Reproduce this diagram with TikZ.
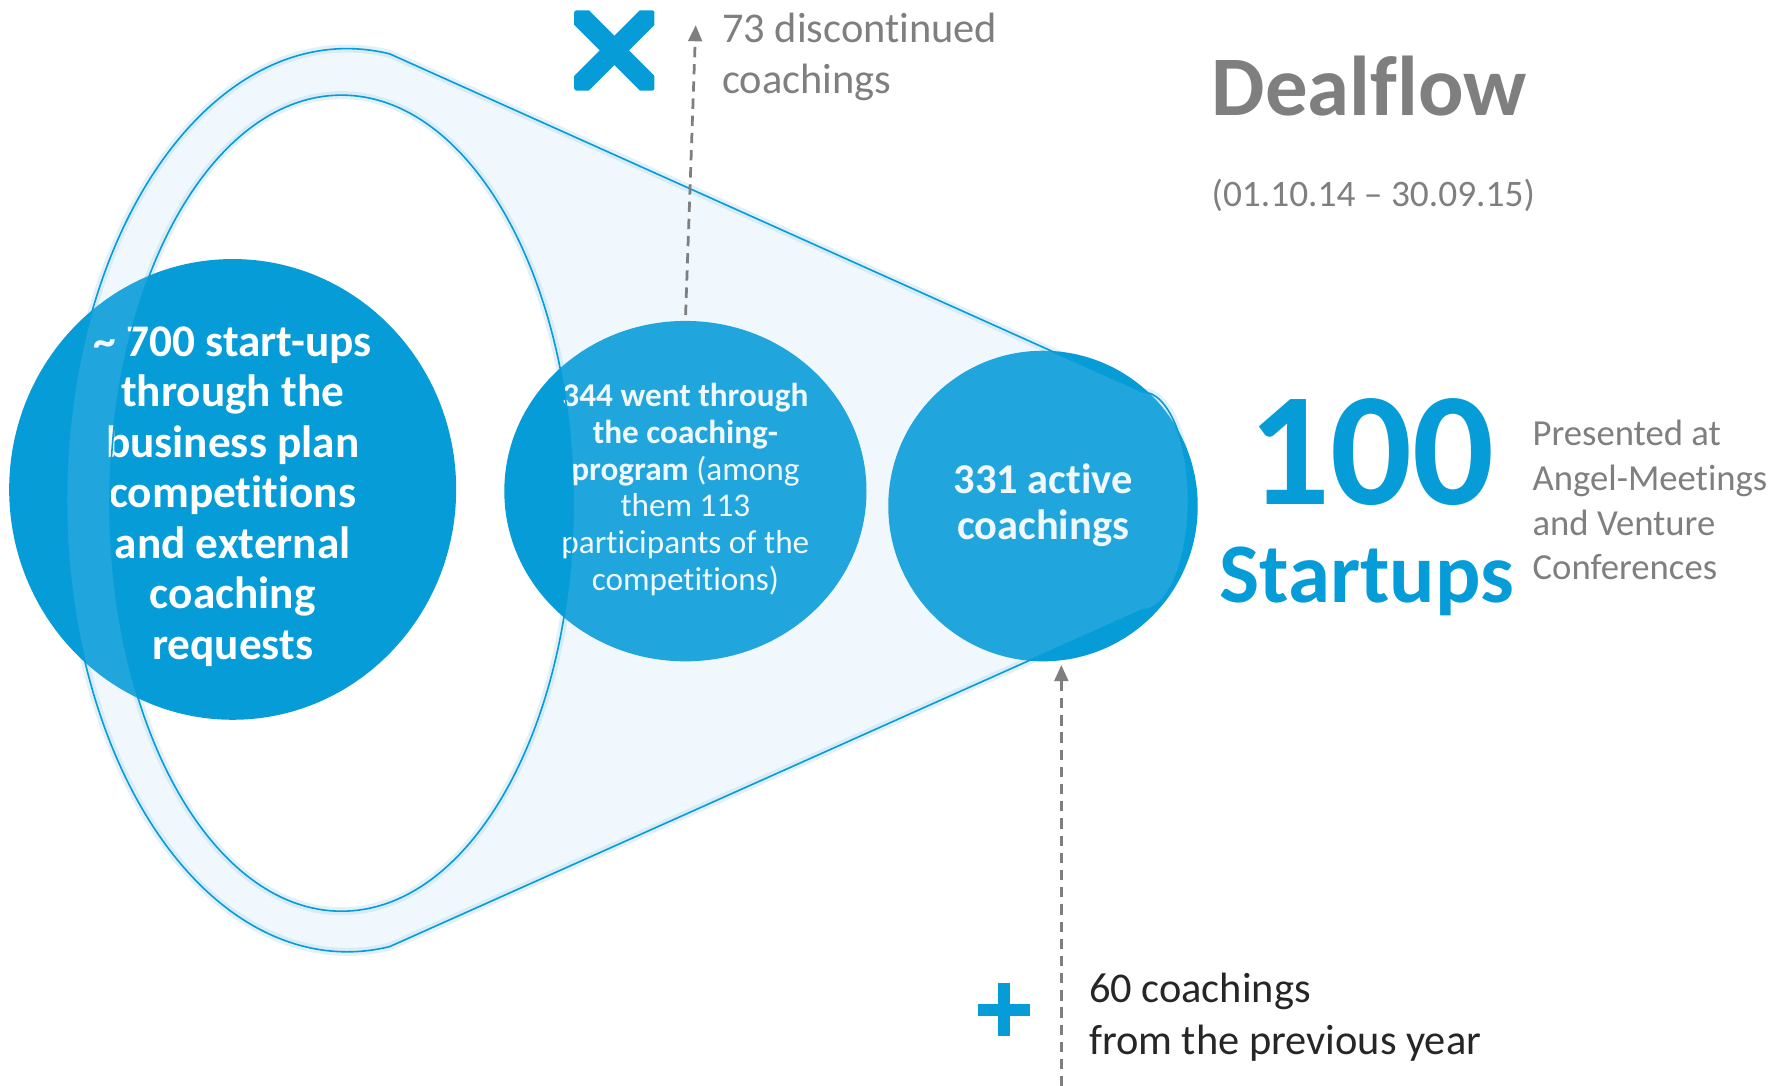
\documentclass[tikz,border=0pt]{standalone}
\usepackage{fontspec}
\setmainfont{Carlito}[Ligatures=NoCommon]
\usetikzlibrary{arrows.meta,shapes.geometric}
\definecolor{cblue}{RGB}{6,156,216}
\definecolor{fillzero}{RGB}{172,216,246}
\definecolor{tgray}{RGB}{127,127,127}
\definecolor{tdark}{RGB}{38,38,38}
\definecolor{glowc}{RGB}{205,230,246}
\def\funnelpath{(340,47) arc[start angle=-81.3, end angle=-278.7, x radius=245, y radius=394] -- (997,532) arc[start angle=90, end angle=-90, x radius=40, y radius=95] -- cycle}
\def\holepath{(298,439) ellipse [x radius=202, y radius=356]}
\begin{document}
\begin{tikzpicture}[x=1pt,y=-1pt,
  bubble/.style={ellipse, draw=none, fill=cblue, inner sep=0pt},
  wtext/.style={text=white, align=center, inner sep=0pt, anchor=base},
  gtext/.style={text=tgray, align=left, inner sep=0pt, anchor=base west},
  darrow/.style={draw=tgray, line width=2.4pt, dash pattern=on 9pt off 6pt, -{Triangle[length=14pt,width=12pt]}},
  funnelline/.style={draw=cblue, line width=1.4pt},
  glowline/.style={draw=glowc, line width=7pt, opacity=0.6},
]
\useasboundingbox (0,0) rectangle (1560,947.5);
\fill[white] (0,0) rectangle (1560,947.5);

% soft glow of the funnel (under the circles)
\draw[glowline] \funnelpath;
\draw[glowline] \holepath;

% circles
\node[bubble, minimum width=390pt, minimum height=402pt] (big) at (203,427) {};
\node[bubble, minimum width=316pt, minimum height=297pt] (mid) at (598,428.5) {};
\node[bubble, minimum width=270pt, minimum height=271pt] (right) at (910,441.5) {};

% circle texts (base = last line)
\node[wtext, font=\bfseries\fontsize{39.5}{44}\selectfont] (tbig) at (203,575) {\textasciitilde\ 700 start-ups\\through the\\business plan\\competitions\\and external\\coaching\\requests};
\node[wtext, font=\fontsize{29}{32}\selectfont] (tmid) at (598,515) {\textbf{344 went through}\\\textbf{the coaching-}\\\textbf{program} (among\\them 113\\participants of the\\competitions)};
\node[wtext, font=\bfseries\fontsize{37}{40}\selectfont] (tright) at (910,471) {331 active\\coachings};

% funnel overlay
\fill[fillzero, fill opacity=0.16, even odd rule] \funnelpath \holepath;
\draw[funnelline] \funnelpath;
\draw[funnelline] \holepath;

% right texts
\node[gtext, font=\bfseries\fontsize{74}{74}\selectfont] (title) at (1057,101) {Dealflow};
\node[gtext, font=\fontsize{32.6}{33}\selectfont] (date) at (1057,180) {(01.10.14 – 30.09.15)};
\node[gtext, text=cblue, font=\bfseries\fontsize{141}{141}\selectfont] (hundred) at (1089,440) {100};
\node[gtext, text=cblue, font=\bfseries\fontsize{74}{74}\selectfont] (startups) at (1064,526) {Startups};
\node[gtext, font=\fontsize{32}{39}\selectfont] (presented) at (1337,506) {Presented at\\Angel-Meetings\\and Venture\\Conferences};
\node[gtext, font=\fontsize{37}{45}\selectfont] (disc) at (630,82) {73 discontinued\\coachings};
\node[gtext, text=tdark, font=\fontsize{37}{45}\selectfont] (prev) at (950,920) {60 coachings\\from the previous year};

% icons
\begin{scope}
\clip[rounded corners=2pt] (501,9) rectangle (571,79);
\draw[cblue, line width=18pt] (491,-1) -- (581,89) (581,-1) -- (491,89);
\end{scope}
\draw[cblue, line width=10.5pt] (853,881) -- (899,881) (876,858) -- (876,904);

% arrows
\coordinate (uptip) at (607,22);
\coordinate (lowstart) at (926,948);
\draw[darrow, shorten <=5pt] (mid.north) -- (uptip);
\draw[darrow, shorten >=3pt] (lowstart) -- (lowstart |- right.south);
\end{tikzpicture}
\end{document}
